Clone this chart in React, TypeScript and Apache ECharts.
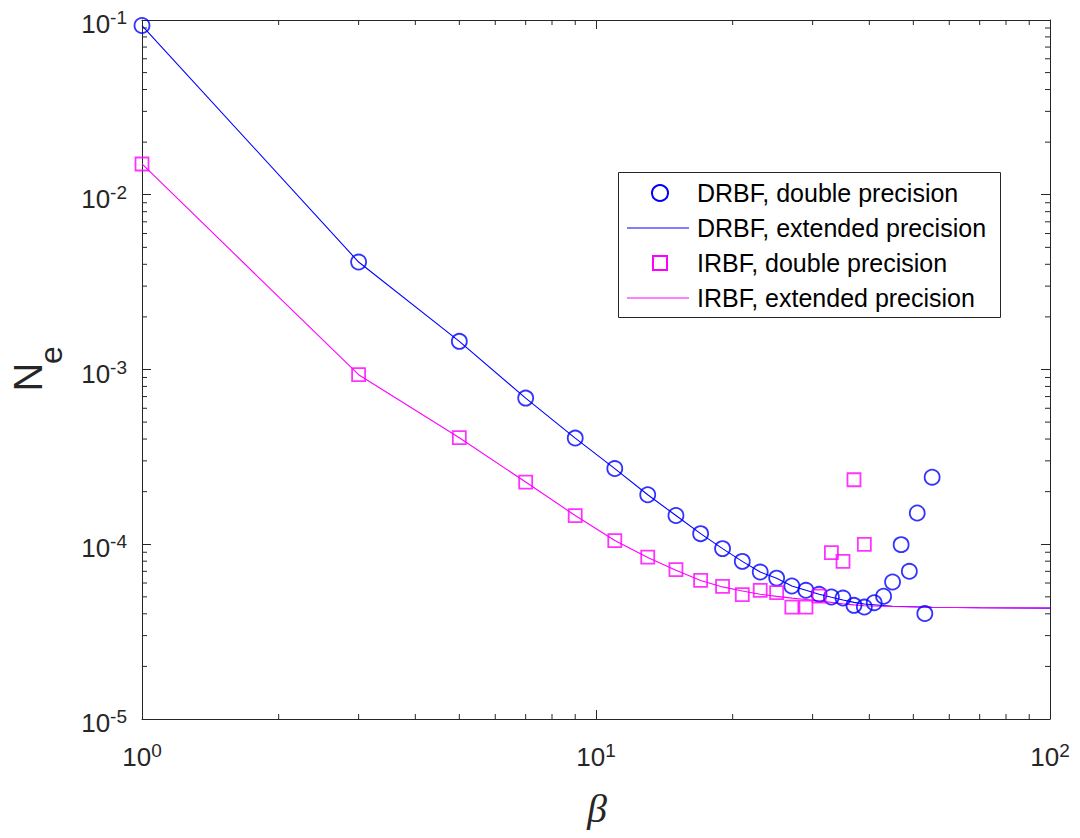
import React, { useEffect, useRef } from "react";
import * as echarts from "echarts";

// ---- data ----
const betaDRBFDouble = [1, 3, 5, 7, 9, 11, 13, 15, 17, 19, 21, 23, 25, 27, 29, 31, 33, 35, 37, 39, 41, 43, 45, 47, 49, 51, 53, 55];
const neDRBFDouble = [0.093, 4.12e-3, 1.449e-3, 6.86e-4, 4.05e-4, 2.71e-4, 1.92e-4, 1.46e-4, 1.15e-4, 9.44e-5, 7.98e-5, 6.93e-5, 6.4e-5, 5.77e-5, 5.45e-5, 5.17e-5, 4.99e-5, 4.92e-5, 4.47e-5, 4.37e-5, 4.63e-5, 5.04e-5, 6.08e-5, 9.95e-5, 7.0e-5, 1.51e-4, 4.01e-5, 2.42e-4];

const betaIRBFDouble = [1, 3, 5, 7, 9, 11, 13, 15, 17, 19, 21, 23, 25, 27, 29, 31, 33, 35, 37, 39];
const neIRBFDouble = [0.015, 9.34e-4, 4.07e-4, 2.27e-4, 1.46e-4, 1.05e-4, 8.45e-5, 7.16e-5, 6.22e-5, 5.74e-5, 5.15e-5, 5.45e-5, 5.28e-5, 4.37e-5, 4.37e-5, 5.05e-5, 8.95e-5, 7.98e-5, 2.34e-4, 9.99e-5];

const betaExtended = [1, 3, 5, 7, 9, 11, 13, 15, 17, 19, 21, 23, 25, 27, 29, 31, 33, 35, 37, 39, 45, 55, 70, 100];
const neDRBFExtended = [0.093, 4.12e-3, 1.449e-3, 6.86e-4, 4.05e-4, 2.71e-4, 1.92e-4, 1.46e-4, 1.15e-4, 9.44e-5, 7.98e-5, 6.93e-5, 6.38e-5, 5.77e-5, 5.45e-5, 5.17e-5, 4.97e-5, 4.8e-5, 4.65e-5, 4.55e-5, 4.42e-5, 4.36e-5, 4.33e-5, 4.31e-5];
const neIRBFExtended = [0.015, 9.34e-4, 4.07e-4, 2.27e-4, 1.46e-4, 1.05e-4, 8.4e-5, 7.1e-5, 6.2e-5, 5.7e-5, 5.4e-5, 5.17e-5, 5.03e-5, 4.92e-5, 4.83e-5, 4.75e-5, 4.65e-5, 4.57e-5, 4.5e-5, 4.45e-5, 4.4e-5, 4.36e-5, 4.33e-5, 4.32e-5];

const seriesNames = [
  "DRBF, double precision",
  "DRBF, extended precision",
  "IRBF, double precision",
  "IRBF, extended precision",
];

const X_MIN = 1;
const X_MAX = 100;
const Y_MIN = 1e-5;
const Y_MAX = 1e-1;
const minorX = [2, 3, 4, 5, 6, 7, 8, 9, 20, 30, 40, 50, 60, 70, 80, 90];
const minorY = [
  2e-5, 3e-5, 4e-5, 5e-5, 6e-5, 7e-5, 8e-5, 9e-5,
  2e-4, 3e-4, 4e-4, 5e-4, 6e-4, 7e-4, 8e-4, 9e-4,
  2e-3, 3e-3, 4e-3, 5e-3, 6e-3, 7e-3, 8e-3, 9e-3,
  2e-2, 3e-2, 4e-2, 5e-2, 6e-2, 7e-2, 8e-2, 9e-2,
];

const FONT = "'Liberation Sans', Arial, Helvetica, sans-serif";
const AX = "#262626";
const BLUE = "#0000ff";
const MAGENTA = "#ff00ff";

const powLabel = (v: number) => {
  const e = Math.round(Math.log10(v));
  return `{b|10}{s|${e}}`;
};
const richPow = {
  b: { fontFamily: FONT, fontSize: 26, lineHeight: 32, color: AX },
  s: { fontFamily: FONT, fontSize: 19, lineHeight: 10, color: AX, verticalAlign: "top" },
};

// legend layout (drawn with graphic elements)
const LEG_X = 618;
const LEG_Y = 172;
const LEG_W = 382;
const LEG_H = 145;
const LEG_ROWS = [193, 228, 263, 298];

export default function App() {
  const ref = useRef<HTMLDivElement>(null);
  useEffect(() => {
    if (!ref.current) return;
    const chart = echarts.init(ref.current, undefined, { renderer: "svg" });

    const baseAxis = {
      axisLine: { show: true, lineStyle: { color: AX, width: 1 } },
      axisTick: { show: true, inside: true, length: 9, lineStyle: { color: AX, width: 1 } },
      splitLine: { show: false },
    };

    const legendText = (i: number) => ({
      type: "text",
      z: 101,
      x: 697,
      y: LEG_ROWS[i],
      style: { text: seriesNames[i], font: `25px ${FONT}`, fill: "#000", align: "left", verticalAlign: "middle" },
    });

    const option: any = {
      animation: false,
      backgroundColor: "#ffffff",
      grid: { left: 142, right: 30, top: 20, bottom: 119, containLabel: false },
      xAxis: [
        {
          ...baseAxis,
          type: "log",
          logBase: 10,
          min: X_MIN,
          max: X_MAX,
          position: "bottom",
          axisLabel: { show: true, margin: 22, formatter: powLabel, rich: richPow },
        },
        {
          ...baseAxis,
          type: "log",
          logBase: 10,
          min: X_MIN,
          max: X_MAX,
          position: "top",
          axisLabel: { show: false },
        },
      ],
      yAxis: [
        {
          ...baseAxis,
          type: "log",
          logBase: 10,
          min: Y_MIN,
          max: Y_MAX,
          position: "left",
          axisLabel: { show: true, margin: 15, padding: [8, 0, 0, 0], formatter: powLabel, rich: richPow },
        },
        {
          ...baseAxis,
          type: "log",
          logBase: 10,
          min: Y_MIN,
          max: Y_MAX,
          position: "right",
          axisLabel: { show: false },
        },
      ],
      graphic: [
        {
          type: "text",
          x: 28,
          y: 377,
          rotation: Math.PI / 2,
          style: { text: "N", font: `40px ${FONT}`, fill: AX, align: "center", verticalAlign: "middle" },
        },
        {
          type: "text",
          x: 51,
          y: 355,
          rotation: Math.PI / 2,
          style: { text: "e", font: `32px ${FONT}`, fill: AX, align: "center", verticalAlign: "middle" },
        },
        {
          type: "text",
          x: 597,
          y: 808,
          style: {
            text: "β",
            font: "italic 40px 'Liberation Serif', 'Times New Roman', serif",
            fill: AX,
            align: "center",
            verticalAlign: "middle",
          },
        },
        // legend
        {
          type: "rect",
          z: 100,
          shape: { x: LEG_X + 0.5, y: LEG_Y + 0.5, width: LEG_W, height: LEG_H },
          style: { fill: "#ffffff", stroke: AX, lineWidth: 1 },
        },
        { type: "circle", z: 101, shape: { cx: 660, cy: LEG_ROWS[0], r: 8 }, style: { fill: "none", stroke: BLUE, lineWidth: 2 } },
        { type: "line", z: 101, shape: { x1: 627, y1: LEG_ROWS[1], x2: 689, y2: LEG_ROWS[1] }, style: { stroke: BLUE, lineWidth: 1.2 } },
        { type: "rect", z: 101, shape: { x: 653, y: LEG_ROWS[2] - 7, width: 14, height: 14 }, style: { fill: "none", stroke: MAGENTA, lineWidth: 2 } },
        { type: "line", z: 101, shape: { x1: 627, y1: LEG_ROWS[3], x2: 689, y2: LEG_ROWS[3] }, style: { stroke: MAGENTA, lineWidth: 1.2 } },
        legendText(0),
        legendText(1),
        legendText(2),
        legendText(3),
      ],
      series: [
        {
          name: "minorX",
          type: "custom",
          xAxisIndex: 0,
          yAxisIndex: 0,
          silent: true,
          clip: false,
          data: minorX.map((v) => [v, Y_MIN]),
          renderItem: (params: any, api: any) => {
            const v = api.value(0);
            const b = api.coord([v, Y_MIN]);
            const t = api.coord([v, Y_MAX]);
            return {
              type: "group",
              children: [
                { type: "line", shape: { x1: b[0], y1: b[1], x2: b[0], y2: b[1] - 5 }, style: { stroke: AX, lineWidth: 1 } },
                { type: "line", shape: { x1: t[0], y1: t[1], x2: t[0], y2: t[1] + 5 }, style: { stroke: AX, lineWidth: 1 } },
              ],
            };
          },
        },
        {
          name: "minorY",
          type: "custom",
          xAxisIndex: 0,
          yAxisIndex: 0,
          silent: true,
          clip: false,
          data: minorY.map((v) => [X_MIN, v]),
          renderItem: (params: any, api: any) => {
            const v = api.value(1);
            const l = api.coord([X_MIN, v]);
            const r = api.coord([X_MAX, v]);
            return {
              type: "group",
              children: [
                { type: "line", shape: { x1: l[0], y1: l[1], x2: l[0] + 5, y2: l[1] }, style: { stroke: AX, lineWidth: 1 } },
                { type: "line", shape: { x1: r[0], y1: r[1], x2: r[0] - 5, y2: r[1] }, style: { stroke: AX, lineWidth: 1 } },
              ],
            };
          },
        },
        {
          name: seriesNames[1],
          type: "line",
          data: betaExtended.map((b, i) => [b, neDRBFExtended[i]]),
          symbol: "none",
          lineStyle: { color: BLUE, width: 1.1 },
          itemStyle: { color: BLUE },
          z: 3,
        },
        {
          name: seriesNames[3],
          type: "line",
          data: betaExtended.map((b, i) => [b, neIRBFExtended[i]]),
          symbol: "none",
          lineStyle: { color: MAGENTA, width: 1.1 },
          itemStyle: { color: MAGENTA },
          z: 3,
        },
        {
          name: seriesNames[0],
          type: "scatter",
          data: betaDRBFDouble.map((b, i) => [b, neDRBFDouble[i]]),
          symbol: "circle",
          symbolSize: 15,
          itemStyle: { color: "rgba(255,255,255,0)", borderColor: BLUE, borderWidth: 1.8 },
          z: 4,
        },
        {
          name: seriesNames[2],
          type: "scatter",
          data: betaIRBFDouble.map((b, i) => [b, neIRBFDouble[i]]),
          symbol: "rect",
          symbolSize: 13,
          itemStyle: { color: "rgba(255,255,255,0)", borderColor: MAGENTA, borderWidth: 1.8 },
          z: 5,
        },
      ],
    };

    chart.setOption(option);
    return () => chart.dispose();
  }, []);

  return <div ref={ref} style={{ width: 1080, height: 838, margin: -8 }} />;
}
